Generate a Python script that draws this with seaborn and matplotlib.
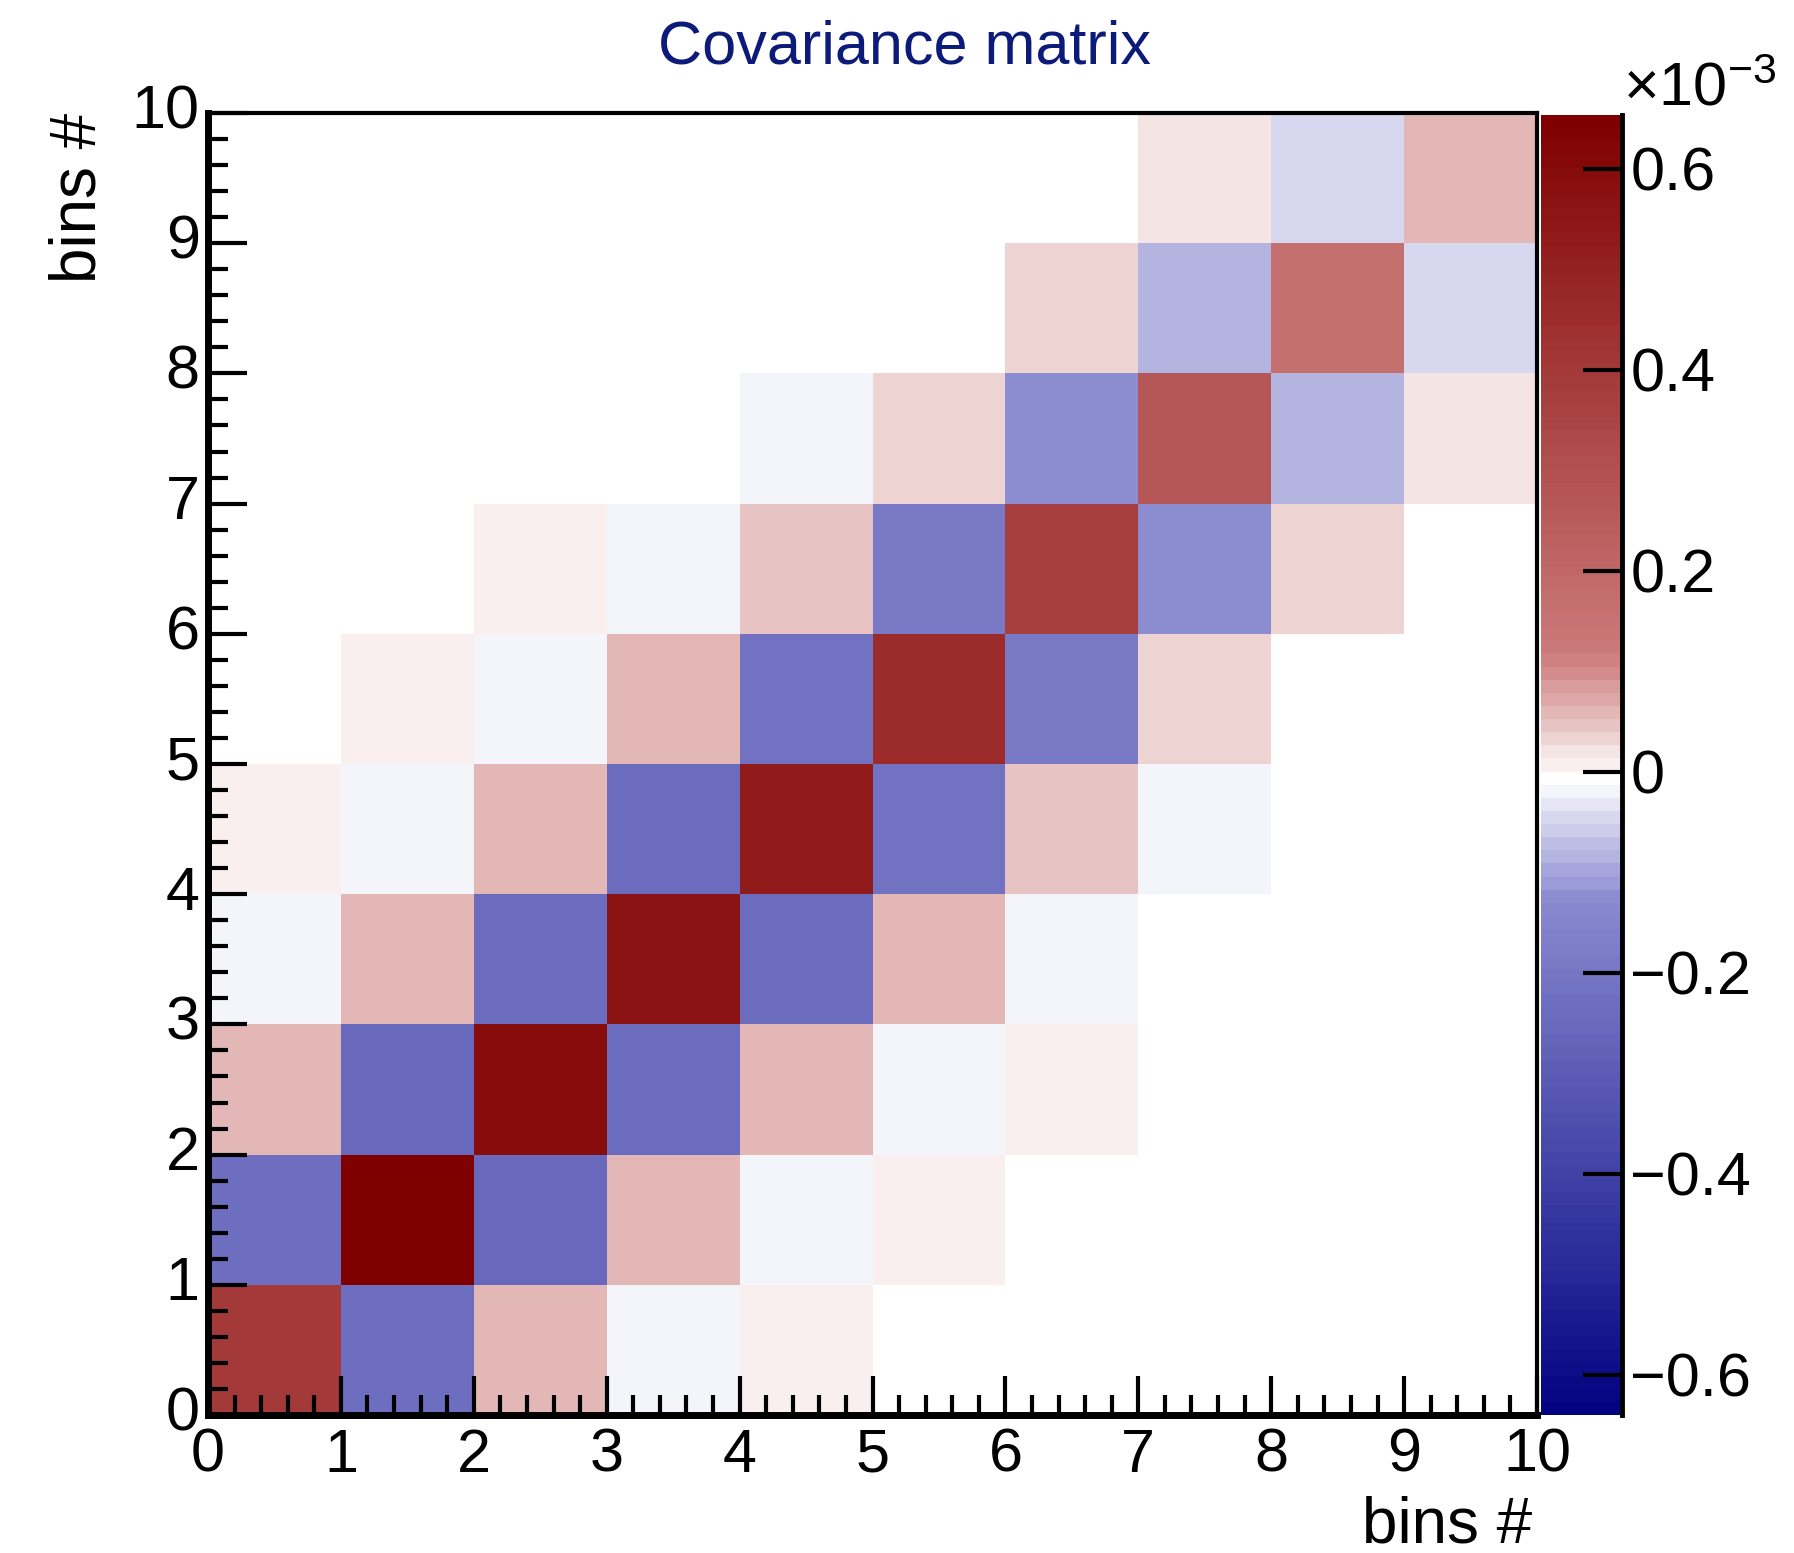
import numpy as np
import pandas as pd
import matplotlib
matplotlib.use("Agg")
import matplotlib.pyplot as plt
import seaborn as sns
from matplotlib.colors import LinearSegmentedColormap, ListedColormap, BoundaryNorm
from matplotlib.ticker import MultipleLocator

# ---------------- data (covariance values in units of 1e-3) ----------------
diag = [0.40, 0.65, 0.60, 0.565, 0.53, 0.45, 0.37, 0.27, 0.163, 0.058]
off1 = [-0.228, -0.255, -0.245, -0.24, -0.215, -0.19, -0.125, -0.085, -0.046]
off2 = [0.058, 0.058, 0.058, 0.058, 0.045, 0.032, 0.032, 0.019]
off3 = [-0.02, -0.02, -0.02, -0.02, -0.02, 0.0, 0.0]
off4 = [0.006, 0.006, 0.006, 0.0, 0.0, 0.0]

bins = list(range(10))
axis_ticks = list(range(11))
axis_tick_labels = [str(i) for i in axis_ticks]
z_ticks = [-0.6, -0.4, -0.2, 0.0, 0.2, 0.4, 0.6]
z_tick_labels = ["\u22120.6", "\u22120.4", "\u22120.2", "0", "0.2", "0.4", "0.6"]

# palette (ROOT-like gradient, 99 contour levels)
palette_values = [-0.640, -0.12, 0.0, 0.12, 0.6535]
palette_colors = ["#000080", "#8a8ad0", "#ffffff", "#cd7b7b", "#800000"]
n_levels = 99
z_min, z_max = -0.640, 0.6535

# ---------------- build matrix ----------------
cov = np.diag(np.array(diag, dtype=float))
for k, offs in enumerate([off1, off2, off3, off4], start=1):
    o = np.array(offs, dtype=float)
    cov += np.diag(o, k) + np.diag(o, -k)
df = pd.DataFrame(cov, index=bins, columns=bins)
mask = cov == 0

pos = [(v - z_min) / (z_max - z_min) for v in palette_values]
grad = LinearSegmentedColormap.from_list("covgrad", list(zip(pos, palette_colors)))
bounds = np.linspace(z_min, z_max, n_levels + 1)
band_cols = [grad((b - z_min) / (z_max - z_min)) for b in bounds[1:]]
cmap = ListedColormap(band_cols)
norm = BoundaryNorm(bounds, cmap.N)

# ---------------- figure ----------------
plt.rcParams["font.family"] = ["Liberation Sans", "DejaVu Sans"]
plt.rcParams["mathtext.fontset"] = "custom"
plt.rcParams["mathtext.rm"] = "Liberation Sans"
plt.rcParams["mathtext.it"] = "Liberation Sans:italic"
plt.rcParams["mathtext.bf"] = "Liberation Sans:bold"

fig = plt.figure(figsize=(17.94, 15.53), dpi=100)
ax = fig.add_axes([208 / 1794, 138 / 1553, (1537 - 208) / 1794, (1415 - 113) / 1553])
cax = fig.add_axes([1541 / 1794, 138 / 1553, 81 / 1794, (1415 - 115) / 1553])

sns.heatmap(df, ax=ax, cmap=cmap, norm=norm, mask=mask, cbar=True, cbar_ax=cax,
            linewidths=0)

ax.set_xlim(0, 10)
ax.set_ylim(0, 10)
ax.set_facecolor("white")

ax.set_xticks(axis_ticks)
ax.set_xticklabels(axis_tick_labels, rotation=0)
ax.set_yticks(axis_ticks)
ax.set_yticklabels(axis_tick_labels, rotation=0)
ax.xaxis.set_minor_locator(MultipleLocator(0.2))
ax.yaxis.set_minor_locator(MultipleLocator(0.2))
ax.tick_params(which="major", direction="in", length=28, width=3, labelsize=44,
               top=False, right=False, colors="black")
ax.tick_params(which="minor", direction="in", length=14.5, width=3,
               top=False, right=False, colors="black")
ax.tick_params(axis="x", which="major", pad=9)
ax.tick_params(axis="y", which="major", pad=6)

for side in ["left", "bottom", "top", "right"]:
    ax.spines[side].set_visible(True)
    ax.spines[side].set_color("black")
ax.spines["left"].set_linewidth(5)
ax.spines["bottom"].set_linewidth(5)
ax.spines["top"].set_linewidth(3)
ax.spines["right"].set_linewidth(3)

ax.set_xlabel("bins #", fontsize=46, loc="right")
ax.xaxis.set_label_coords((1532 - 208) / 1329, -0.062)
ax.set_ylabel("bins #", fontsize=46, loc="top")
ax.yaxis.set_label_coords(-0.075, 1.0)

# colorbar
cb = ax.collections[0].colorbar
cb.set_ticks(z_ticks)
cb.set_ticklabels(z_tick_labels)
cb.outline.set_visible(False)
cax.minorticks_off()
cax.yaxis.set_ticks_position("right")
cax.tick_params(which="major", direction="in", length=28, width=3, labelsize=44,
                pad=6, colors="black")
cax.spines["right"].set_visible(True)
cax.spines["right"].set_linewidth(3.5)
cax.spines["right"].set_color("black")

fig.text(1623 / 1794, 1 - 106 / 1553, r"$\mathregular{\times10^{-3}}$", fontsize=44,
         ha="left", va="baseline")

fig.text(905 / 1794, 1 - 63 / 1553, "Covariance matrix", fontsize=44,
         color="#0c1a7a", ha="center", va="baseline")

fig.savefig("out.png", dpi=100)
